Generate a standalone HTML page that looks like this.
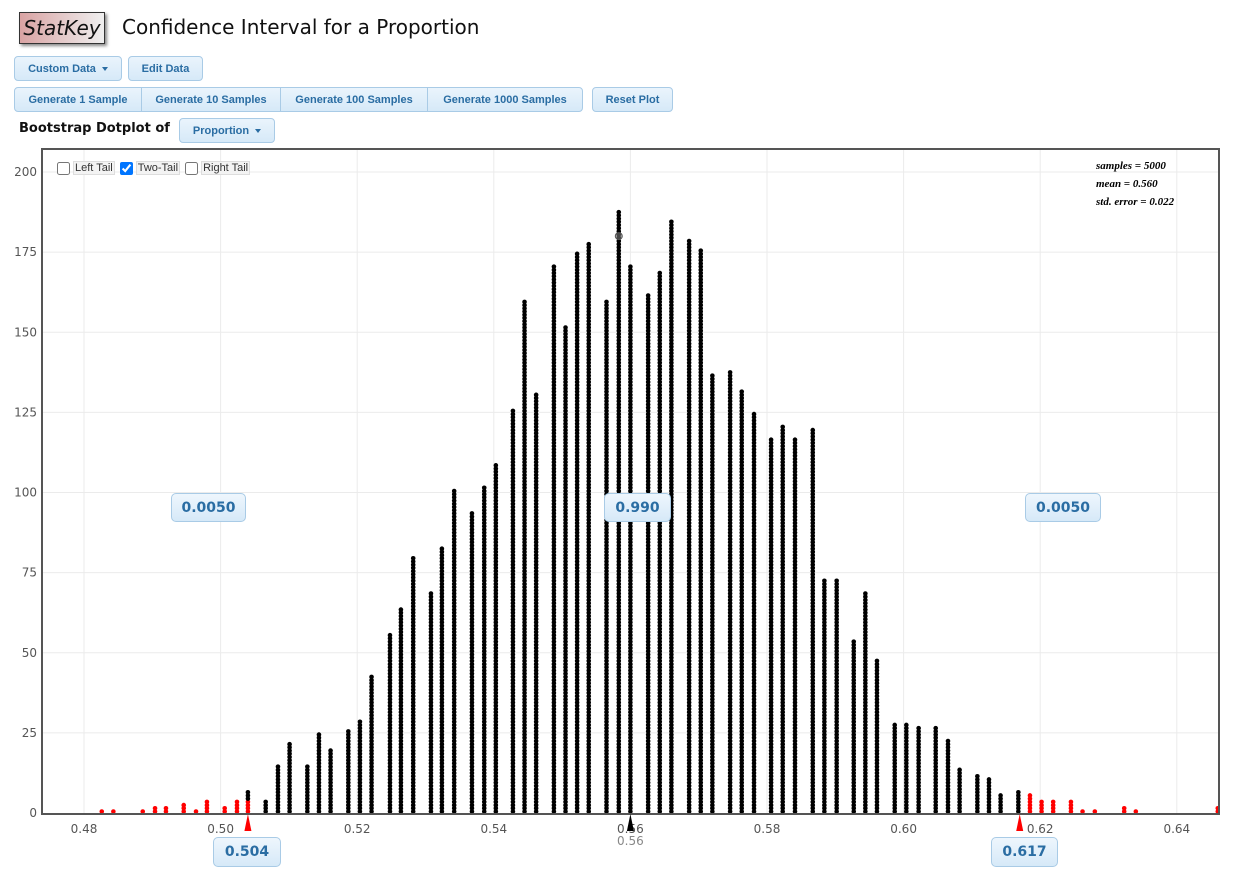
<!DOCTYPE html>
<html><head><meta charset="utf-8">
<style>
body{margin:0;width:1234px;height:880px;background:#fff;font-family:"Liberation Sans",sans-serif;position:relative;overflow:hidden}
.abs{position:absolute}
.btn{position:absolute;box-sizing:border-box;border:1px solid #a9cbe6;background:linear-gradient(#eaf4fc,#d6e9f8);color:#2a6da3;font-size:11px;font-weight:bold;display:flex;align-items:center;justify-content:center;border-radius:4px;font-family:"Liberation Sans",sans-serif}
.caret{display:inline-block;width:0;height:0;border-left:3.5px solid transparent;border-right:3.5px solid transparent;border-top:4px solid #2a6da3;margin-left:6px}
.lab{position:absolute;box-sizing:border-box;border:1px solid #a9cbe6;background:linear-gradient(#eef6fd,#d6e9f8);color:#2a6da3;font-size:14px;font-weight:bold;display:flex;align-items:center;justify-content:center;border-radius:5px;font-family:"DejaVu Sans",sans-serif}
</style></head><body>
<div class="abs" style="left:19px;top:12px;width:86px;height:32px;box-sizing:border-box;border:1px solid #333;background:linear-gradient(90deg,#d9a3a3,#efefef);box-shadow:2px 2px 3px #888;font-style:italic;font-size:20px;display:flex;align-items:center;justify-content:center;color:#111;font-family:'DejaVu Sans',sans-serif">StatKey</div>
<div class="abs" style="left:122px;top:15px;font-size:20px;color:#111;font-family:'DejaVu Sans',sans-serif">Confidence Interval for a Proportion</div>
<div class="btn" style="left:14px;top:56px;width:108px;height:25px">Custom Data<span class="caret"></span></div>
<div class="btn" style="left:128px;top:56px;width:75px;height:25px">Edit Data</div>
<div class="btn" style="left:14px;top:87px;width:128px;height:25px;border-radius:4px 0 0 4px">Generate 1 Sample</div>
<div class="btn" style="left:141px;top:87px;width:140px;height:25px;border-radius:0">Generate 10 Samples</div>
<div class="btn" style="left:280px;top:87px;width:148px;height:25px;border-radius:0">Generate 100 Samples</div>
<div class="btn" style="left:427px;top:87px;width:156px;height:25px;border-radius:0 4px 4px 0">Generate 1000 Samples</div>
<div class="btn" style="left:592px;top:87px;width:81px;height:25px">Reset Plot</div>
<div class="abs" style="left:19px;top:121px;font-size:13px;font-weight:bold;color:#111;font-family:'DejaVu Sans',sans-serif">Bootstrap Dotplot of</div>
<div class="btn" style="left:179px;top:118px;width:96px;height:25px">Proportion<span class="caret"></span></div>

<svg class="abs" style="left:0;top:0" width="1234" height="880" id="chart"></svg>

<div class="abs" style="left:57px;top:161px;font-size:11px;color:#333;display:flex;align-items:center;gap:3px">
<input type="checkbox" style="margin:0;width:13px;height:13px"><span style="background:#f3f3f3;border:1px solid #ddd;padding:0 1px">Left Tail</span>
<input type="checkbox" checked style="margin:0 0 0 2px;width:13px;height:13px"><span style="background:#f3f3f3;border:1px solid #ddd;padding:0 1px">Two-Tail</span>
<input type="checkbox" style="margin:0 0 0 2px;width:13px;height:13px"><span style="background:#f3f3f3;border:1px solid #ddd;padding:0 1px">Right Tail</span>
</div>
<div class="abs" style="left:1096px;top:157px;font-family:'Liberation Serif',serif;font-style:italic;font-weight:bold;font-size:11px;line-height:18px;color:#000">samples = 5000<br>mean = 0.560<br>std. error = 0.022</div>

<div class="lab" style="left:171px;top:493px;width:75px;height:29px">0.0050</div>
<div class="lab" style="left:604px;top:493px;width:67px;height:29px">0.990</div>
<div class="lab" style="left:1025px;top:493px;width:76px;height:29px">0.0050</div>
<div class="lab" style="left:213px;top:837px;width:68px;height:30px">0.504</div>
<div class="lab" style="left:991px;top:837px;width:67px;height:30px">0.617</div>

<script>
const values=[0.4826,0.4843,0.4886,0.4904,0.4920,0.4946,0.4964,0.4980,0.5006,0.5024,0.5040,0.5066,0.5084,0.5101,0.5127,0.5144,0.5161,0.5187,0.5204,0.5221,0.5248,0.5264,0.5282,0.5308,0.5324,0.5342,0.5368,0.5386,0.5403,0.5428,0.5445,0.5462,0.5488,0.5505,0.5522,0.5539,0.5565,0.5583,0.5600,0.5626,0.5643,0.5660,0.5686,0.5703,0.5720,0.5746,0.5763,0.5781,0.5806,0.5823,0.5841,0.5867,0.5884,0.5902,0.5927,0.5944,0.5961,0.5987,0.6004,0.6022,0.6047,0.6065,0.6082,0.6108,0.6125,0.6142,0.6168,0.6185,0.6202,0.6219,0.6245,0.6262,0.6280,0.6323,0.6340,0.6460];
const counts=[1,1,1,2,2,3,1,4,2,4,7,4,15,22,15,25,20,26,29,43,56,64,80,69,83,101,94,102,109,126,160,131,171,152,175,178,160,188,171,162,169,185,179,176,137,138,132,125,117,121,117,120,73,73,54,69,48,28,28,27,27,23,14,12,11,6,7,6,4,4,4,1,1,2,1,2];
const xTicks=[0.48,0.50,0.52,0.54,0.56,0.58,0.60,0.62,0.64];
const xTickLabels=["0.48","0.50","0.52","0.54","0.56","0.58","0.60","0.62","0.64"];
const yTicks=[0,25,50,75,100,125,150,175,200];
const lowerBound=0.504, upperBound=0.617, meanVal=0.56, splitRedDots=4;
const hoverValue=0.5583, hoverCount=180;

const NS="http://www.w3.org/2000/svg";
const svg=document.getElementById('chart');
const L=42,R=1219,T=149,B=814;
const xs=v=>84+(v-0.48)/0.02*136.6;
const ys=c=>813-c*3.205;
function mk(tag,attrs){const e=document.createElementNS(NS,tag);for(const k in attrs)e.setAttribute(k,attrs[k]);svg.appendChild(e);return e;}
const clip=mk('clipPath',{id:'pc'});
const cr=document.createElementNS(NS,'rect');cr.setAttribute('x',L);cr.setAttribute('y',T);cr.setAttribute('width',R-L);cr.setAttribute('height',B-T);clip.appendChild(cr);
xTicks.forEach((t,i)=>{
 const g=mk('line',{x1:xs(t),x2:xs(t),y1:T,y2:B,stroke:'#ebebeb','stroke-width':1});
 
 
 const tx=mk('text',{x:xs(t),y:833,'text-anchor':'middle','font-size':12,fill:'#555','font-family':'DejaVu Sans,Liberation Sans,sans-serif'});
 tx.textContent=xTickLabels[i];
 
 
});
yTicks.forEach(t=>{
 if(t>0){const g=mk('line',{x1:L,x2:R,y1:ys(t),y2:ys(t),stroke:'#ebebeb','stroke-width':1});
 
 }
 const tx=mk('text',{x:37,y:ys(t)+4,'text-anchor':'end','font-size':12,fill:'#555','font-family':'DejaVu Sans,Liberation Sans,sans-serif'});
 tx.textContent=String(t);
 
 
});
const dots=mk('g',{'clip-path':'url(#pc)'});


values.forEach((v,i)=>{
 const partial=Math.abs(v-lowerBound)<0.0008;
 for(let k=0;k<counts[i];k++){
  let red=(v<lowerBound-0.0008)||(v>upperBound+0.0008)||(partial&&k<splitRedDots);
  const c=document.createElementNS(NS,'circle');
  c.setAttribute('cx',xs(v));c.setAttribute('cy',ys(k)-1.5);c.setAttribute('r',2.3);
  c.setAttribute('fill',red?'#f00':'#000');
  
  
  dots.appendChild(c);
 }
});
const hv=mk('circle',{cx:xs(hoverValue),cy:ys(hoverCount),r:3.5,fill:'#777','fill-opacity':0.6,stroke:'#555'});


const fr=mk('rect',{x:L,y:T,width:R-L,height:B-T,fill:'none',stroke:'#555','stroke-width':2});


function tri(v,col,name){
 const x=xs(v);
 const p=mk('polygon',{points:`${x},${B} ${x-3.5},${B+17} ${x+3.5},${B+17}`,fill:col});
 
 
}
tri(lowerBound,'#f00','lower-bound-marker');
tri(upperBound,'#f00','upper-bound-marker');
tri(meanVal,'#000','mean-marker');
const ml=mk('text',{x:xs(meanVal),y:845,'text-anchor':'middle','font-size':12,fill:'#888','font-family':'DejaVu Sans,Liberation Sans,sans-serif'});
ml.textContent='0.56';


</script>
</body></html>
